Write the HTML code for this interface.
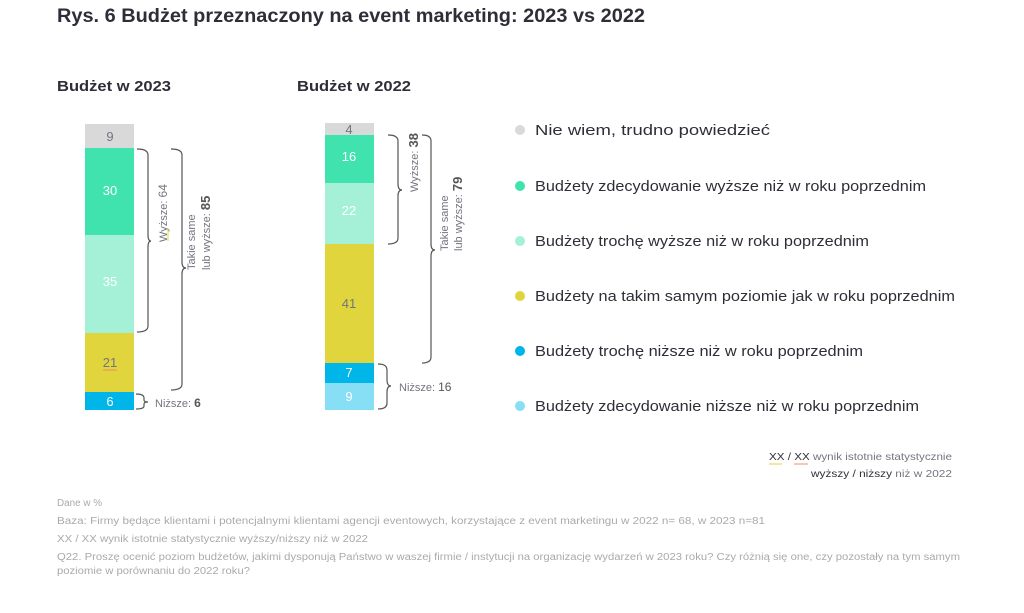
<!DOCTYPE html>
<html><head><meta charset="utf-8"><style>
body{margin:0;background:#fff;width:1024px;height:613px;overflow:hidden;font-family:"Liberation Sans",sans-serif}
svg{display:block}
</style></head><body>
<svg width="1024" height="613" viewBox="0 0 1024 613" font-family="Liberation Sans, sans-serif">
<text x="57" y="22" font-size="19" font-weight="bold" fill="#2e2e38" textLength="588" lengthAdjust="spacingAndGlyphs">Rys. 6 Budżet przeznaczony na event marketing: 2023 vs 2022</text>
<text x="57" y="91" font-size="15" font-weight="bold" fill="#2e2e38" textLength="114" lengthAdjust="spacingAndGlyphs">Budżet w 2023</text>
<text x="297" y="91" font-size="15" font-weight="bold" fill="#2e2e38" textLength="114" lengthAdjust="spacingAndGlyphs">Budżet w 2022</text>

<g font-size="13" text-anchor="middle">
<rect x="85" y="124" width="49" height="24" fill="#d9d9d9"/><text x="110" y="141" fill="#747480">9</text>
<rect x="85" y="148" width="49" height="87" fill="#40e3ad"/><text x="110" y="195" fill="#fff">30</text>
<rect x="85" y="235" width="49" height="98" fill="#a4f1d8"/><text x="110" y="286" fill="#fff">35</text>
<rect x="85" y="333" width="49" height="59" fill="#e0d53c"/><text x="110" y="367" fill="#747480">21</text>
<line x1="103" y1="370" x2="117" y2="370" stroke="#f08c6e" stroke-width="1"/>
<rect x="85" y="392" width="49" height="18" fill="#00b5e8"/><text x="110" y="406" fill="#fff">6</text>

<rect x="325" y="123" width="49" height="12" fill="#d9d9d9"/><text x="349" y="134" fill="#747480">4</text>
<rect x="325" y="135" width="49" height="48" fill="#40e3ad"/><text x="349" y="161" fill="#fff">16</text>
<rect x="325" y="183" width="49" height="61" fill="#a4f1d8"/><text x="349" y="215" fill="#fff">22</text>
<rect x="325" y="244" width="49" height="119" fill="#e0d53c"/><text x="349" y="308" fill="#747480">41</text>
<rect x="325" y="363" width="49" height="20" fill="#00b5e8"/><text x="349" y="377" fill="#fff">7</text>
<rect x="325" y="383" width="49" height="27" fill="#86dff5"/><text x="349" y="401" fill="#fff">9</text>
</g>

<g fill="none" stroke="#555" stroke-width="1.2">
<path d="M137 149 Q148 149 148 155 L148 235 Q148 241 151 241 Q148 241 148 247 L148 326 Q148 332 137 332"/>
<path d="M171 149 Q182 149 182 155 L182 262 Q182 268 186 268 Q182 268 182 274 L182 384 Q182 390 171 390"/>
<path d="M136 394 Q144 394 144 398 L144 400 Q144 402 148 402 Q144 402 144 404 L144 406 Q144 409 136 409"/>
<path d="M388 135 Q398 135 398 141 L398 184 Q398 190 402 190 Q398 190 398 196 L398 238 Q398 244 388 244"/>
<path d="M422 135 Q431 135 431 141 L431 244 Q431 250 435 250 Q431 250 431 256 L431 357 Q431 363 422 363"/>
<path d="M378 364 Q387 364 387 370 L387 380 Q387 386 391 386 Q387 386 387 392 L387 403 Q387 409 378 409"/>
</g>
<g font-size="11" fill="#747480">
<text transform="translate(167,242) rotate(-90)">Wyższe: <tspan font-size="12">64</tspan></text>
<line x1="168" y1="228" x2="168" y2="241" stroke="#e0d53c" stroke-width="1"/>
<text transform="translate(195,270) rotate(-90)">Takie same</text>
<text transform="translate(210,270) rotate(-90)">lub wyższe: <tspan font-size="13" font-weight="bold" fill="#555">85</tspan></text>
<text x="155" y="407">Niższe: <tspan font-size="12" font-weight="bold" fill="#555">6</tspan></text>
<text transform="translate(418,192) rotate(-90)">Wyższe: <tspan font-size="13" font-weight="bold" fill="#555">38</tspan></text>
<text transform="translate(448,251) rotate(-90)">Takie same</text>
<text transform="translate(462,251) rotate(-90)">lub wyższe: <tspan font-size="13" font-weight="bold" fill="#555">79</tspan></text>
<text x="399" y="391">Niższe: <tspan font-size="12" fill="#555">16</tspan></text>
</g>

<g font-size="15" fill="#2e2e38">
<circle cx="520" cy="130" r="5" fill="#d9d9d9"/><text x="535" y="135" textLength="235" lengthAdjust="spacingAndGlyphs">Nie wiem, trudno powiedzieć</text>
<circle cx="520" cy="186" r="5" fill="#40e3ad"/><text x="535" y="191" textLength="391" lengthAdjust="spacingAndGlyphs">Budżety zdecydowanie wyższe niż w roku poprzednim</text>
<circle cx="520" cy="241" r="5" fill="#a4f1d8"/><text x="535" y="246" textLength="334" lengthAdjust="spacingAndGlyphs">Budżety trochę wyższe niż w roku poprzednim</text>
<circle cx="520" cy="296" r="5" fill="#e0d53c"/><text x="535" y="301" textLength="420" lengthAdjust="spacingAndGlyphs">Budżety na takim samym poziomie jak w roku poprzednim</text>
<circle cx="520" cy="351" r="5" fill="#00b5e8"/><text x="535" y="356" textLength="328" lengthAdjust="spacingAndGlyphs">Budżety trochę niższe niż w roku poprzednim</text>
<circle cx="520" cy="406" r="5" fill="#86dff5"/><text x="535" y="411" textLength="384" lengthAdjust="spacingAndGlyphs">Budżety zdecydowanie niższe niż w roku poprzednim</text>
</g>

<g font-size="10.5" fill="#747480">
<text x="769" y="460" textLength="183" lengthAdjust="spacingAndGlyphs"><tspan fill="#2e2e38">XX / XX</tspan> wynik istotnie statystycznie</text>
<text x="811" y="477" textLength="141" lengthAdjust="spacingAndGlyphs"><tspan fill="#2e2e38">wyższy / niższy</tspan> niż w 2022</text>
</g>
<line x1="769" y1="464" x2="782" y2="464" stroke="#e0d53c"/>
<line x1="794" y1="464" x2="808" y2="464" stroke="#f08c6e"/>
<g font-size="10" fill="#aaaaaa">
<text x="57" y="506" textLength="45" lengthAdjust="spacingAndGlyphs">Dane w %</text>
<text x="57" y="524" textLength="708" lengthAdjust="spacingAndGlyphs">Baza: Firmy będące klientami i potencjalnymi klientami agencji eventowych, korzystające z event marketingu w 2022 n= 68, w 2023 n=81</text>
<text x="57" y="542" textLength="311" lengthAdjust="spacingAndGlyphs">XX / XX wynik istotnie statystycznie wyższy/niższy niż w 2022</text>
<text x="57" y="560" textLength="903" lengthAdjust="spacingAndGlyphs">Q22. Proszę ocenić poziom budżetów, jakimi dysponują Państwo w waszej firmie / instytucji na organizację wydarzeń w 2023 roku? Czy różnią się one, czy pozostały na tym samym</text>
<text x="57" y="574" textLength="193" lengthAdjust="spacingAndGlyphs">poziomie w porównaniu do 2022 roku?</text>
</g>
</svg>
</body></html>
